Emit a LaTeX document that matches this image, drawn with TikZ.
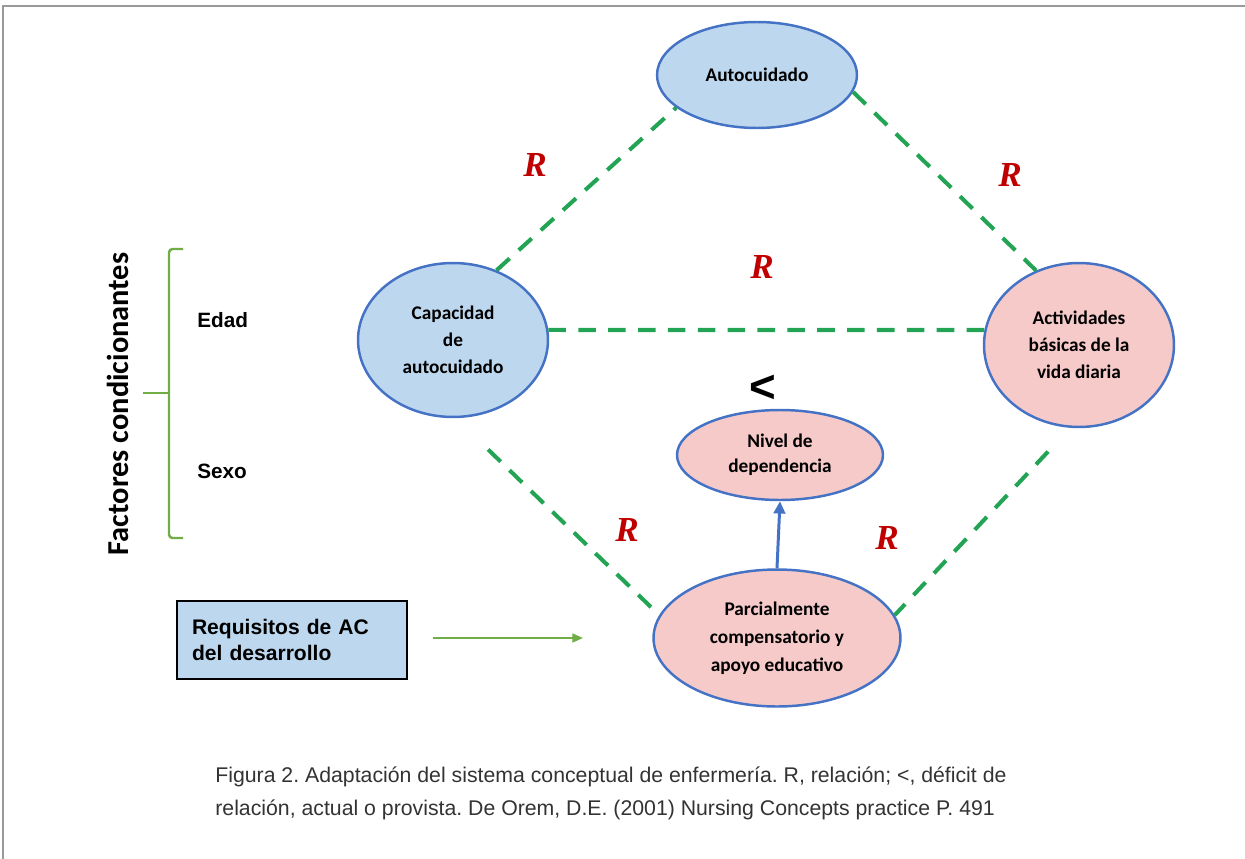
\documentclass[tikz,border=0pt]{standalone}
\usepackage{fontspec}
\setmainfont{Liberation Sans}
\newfontfamily\calib{Carlito}
\newfontfamily\rfont{Liberation Serif}
\usetikzlibrary{arrows.meta,shapes.geometric,positioning}

\definecolor{ovalblue}{HTML}{BDD7EE}
\definecolor{ovalpink}{HTML}{F7CACA}
\definecolor{ovalline}{HTML}{4472C4}
\definecolor{reldash}{HTML}{23A455}
\definecolor{bracegreen}{HTML}{70AD47}
\definecolor{relred}{HTML}{C00000}

\begin{document}
\frenchspacing
\begin{tikzpicture}[x=0.02cm, y=-0.02cm,
    oval/.style={ellipse, draw=ovalline, line width=1.4pt, inner sep=0pt, align=center,
      font=\calib\bfseries\fontsize{11}{15.3}\selectfont},
    blueoval/.style={oval, fill=ovalblue},
    pinkoval/.style={oval, fill=ovalpink},
    rel/.style={reldash, line width=2.3pt, dash pattern=on 10pt off 7pt},
    rlabel/.style={text=relred, font=\rfont\bfseries\itshape\fontsize{20}{20}\selectfont},
    factor/.style={anchor=base west, inner sep=0pt, font=\bfseries\fontsize{11.8}{14}\selectfont},
    caption/.style={anchor=base west, inner sep=0pt, text=black!80, font=\fontsize{12.1}{14}\selectfont}]
    \useasboundingbox (0,0) rectangle (1245,859);
    \draw[gray!80, line width=1.1pt] (3,859) -- (3,6) -- (1245,6);

    % ovals
    \node[blueoval, minimum width=4cm, minimum height=2.12cm] (auto) at (757,75) {Autocuidado};
    \node[blueoval, minimum width=3.8cm, minimum height=3.08cm] (cap) at (453,340) {Capacidad\\de\\autocuidado};
    \node[pinkoval, minimum width=3.8cm, minimum height=3.28cm] (act) at (1079,345) {Actividades\\b\'asicas de la\\vida diaria};
    \node[pinkoval, minimum width=4.12cm, minimum height=1.8cm,
      font=\calib\bfseries\fontsize{11}{14.2}\selectfont] (niv) at (780,455) {Nivel de\\dependencia};
    \node[pinkoval, minimum width=4.94cm, minimum height=2.74cm,
      font=\calib\bfseries\fontsize{11}{16}\selectfont] (parc) at (777,638) {Parcialmente\\compensatorio y\\apoyo educativo};

    % relations
    \draw[rel] (cap.58) -- (auto.-158);
    \draw[rel] (auto.-10) -- (act.120);
    \draw[rel] (cap.6) -- (act.171);
    \draw[rel, shorten <=0.9cm] (cap.-88) -- (parc.169);
    \draw[rel, shorten <=0.65cm] (act.-96) -- (parc.11);
    \draw[ovalline, line width=1.7pt, -{Triangle[length=7pt,width=6.5pt]}] (parc.north) -- (niv.south);

    \node[rlabel] (r1) at (535,165) {R};
    \node[rlabel] (r2) at (1010,175) {R};
    \node[rlabel] (r3) at (762,267) {R};
    \node[rlabel] (r4) at (627,530) {R};
    \node[rlabel] (r5) at (887,538) {R};
    \node[font=\bfseries\fontsize{26}{26}\selectfont] (lt) at (763,389) {<};

    % conditioning factors
    \draw[bracegreen, line width=1.4pt, rounded corners=2pt] (183,249) -- (169,249) -- (169,538) -- (183,538);
    \draw[bracegreen, line width=1.4pt] (143,393) -- (169,393);
    \node[rotate=90, font=\calib\bfseries\fontsize{17.3}{20}\selectfont] (fac) at (118,404) {Factores condicionantes};
    \node[factor] (edad) at (197,327) {Edad};
    \node[factor] (sexo) at (197,478) {Sexo};

    % requirements
    \node[draw=black, line width=1.2pt, fill=ovalblue, minimum width=4.6cm, minimum height=1.56cm,
      text width=4.0cm, inner xsep=0.3cm, align=left,
      font=\bfseries\fontsize{12}{15.3}\selectfont] (req) at (292,640) {Requisitos de AC\\del desarrollo};
    \coordinate (reqout) at (433,638);
    \coordinate (reqin) at (583,638);
    \draw[bracegreen, line width=1.1pt, -{Triangle[length=6pt,width=5pt]}] (reqout) -- (reqin);

    % caption
    \node[caption] (cap1) at (215,782)
      {Figura 2. Adaptaci\'on del sistema conceptual de enfermer\'ia. R, relaci\'on; <, d\'eficit de};
    \node[caption] (cap2) at (215,815)
      {relaci\'on, actual o provista. De Orem, D.E. (2001) Nursing Concepts practice P. 491};
\end{tikzpicture}
\end{document}
